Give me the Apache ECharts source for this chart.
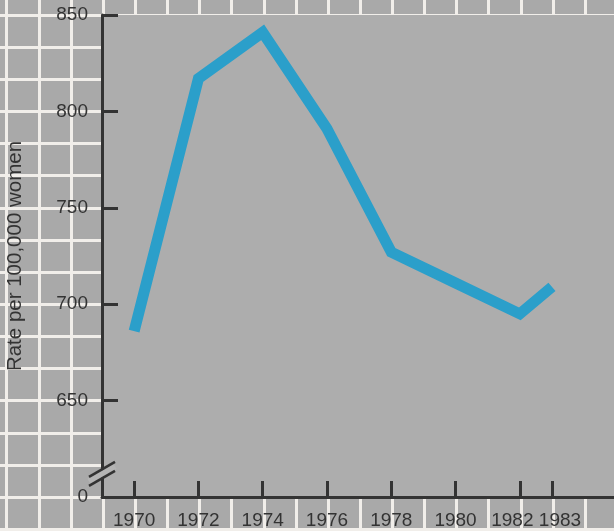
<!DOCTYPE html>
<html>
<head>
<meta charset="utf-8">
<script src="https://cdn.jsdelivr.net/npm/echarts@6/dist/echarts.min.js"></script>
<style>
html,body{margin:0;padding:0;background:#a9a9a9;}
#c{width:614px;height:531px;}
</style>
</head>
<body>
<div id="c"></div>
<script>
const years = [1970, 1972, 1974, 1976, 1978, 1980, 1982, 1983];
const rates = [686, 817, 841, 791, 727, 711, 695, 709];
const xTickYears = [1970, 1972, 1974, 1976, 1978, 1980, 1982, 1983];
const yTickValues = [650, 700, 750, 800, 850];
const yLabelValues = [600, 650, 700, 750, 800, 850];
const axisTitle = 'Rate per 100,000 women';

const FONT = 'Liberation Sans, Arial, sans-serif';
const INK = '#333333';
const BG = '#a9a9a9';
const XSIZE = 19;

const chart = echarts.init(document.getElementById('c'), null, {renderer: 'canvas'});

const labelStyle = {color: INK, fontSize: XSIZE, fontFamily: FONT};
const option = {
  backgroundColor: BG,
  animation: false,
  grid: [
    {left: 102, right: 0, top: 15, bottom: 34, show: true, backgroundColor: '#adadad', borderWidth: 0, z: 1, containLabel: false, outerBoundsMode: 'none'},
    {left: -25.5, right: -3.3, top: -17.13, bottom: -30.3, show: false, z: 0, containLabel: false, outerBoundsMode: 'none'}
  ],
  xAxis: [
    {
      type: 'value', gridIndex: 0, min: 1969, max: 1984.93, z: 3,
      axisLine: {show: true, lineStyle: {color: INK, width: 3}},
      axisTick: {show: true, inside: true, length: 16, customValues: xTickYears, lineStyle: {color: INK, width: 3}},
      axisLabel: {
        show: true, customValues: xTickYears, margin: 14, hideOverlap: false,
        color: INK, fontSize: XSIZE, fontFamily: FONT,
        formatter: v => (v === 1982 ? '{l|' + v + '}' : v === 1983 ? '{r|' + v + '}' : String(v)),
        rich: {
          l: Object.assign({padding: [0, 15, 0, 0]}, labelStyle),
          r: Object.assign({padding: [0, 0, 0, 16]}, labelStyle)
        }
      },
      splitLine: {show: false}
    },
    {
      type: 'value', gridIndex: 1, min: 1965, max: 1985, interval: 1, z: 0,
      axisLine: {show: false}, axisTick: {show: false}, axisLabel: {show: false},
      splitLine: {show: true, lineStyle: {color: '#f1eeea', width: 3}}
    }
  ],
  yAxis: [
    {
      type: 'value', gridIndex: 0, min: 600, max: 850, z: 3,
      name: axisTitle, nameLocation: 'middle', nameRotate: 90, nameGap: 76,
      nameTextStyle: {fontSize: 20.5, color: INK, fontFamily: FONT},
      axisLine: {show: true, lineStyle: {color: INK, width: 3}},
      axisTick: {show: true, inside: true, length: 16, customValues: yTickValues, lineStyle: {color: INK, width: 3}},
      axisLabel: {show: true, customValues: yLabelValues, margin: 14, hideOverlap: false, color: INK, fontSize: 19, fontFamily: FONT,
        formatter: v => (v === 600 ? '0' : String(v))},
      splitLine: {show: false}
    },
    {
      type: 'value', gridIndex: 1, min: 0, max: 18, interval: 1, z: 0,
      axisLine: {show: false}, axisTick: {show: false}, axisLabel: {show: false},
      splitLine: {show: true, lineStyle: {color: '#f1eeea', width: 3}}
    }
  ],
  series: [
    {
      type: 'line', xAxisIndex: 0, yAxisIndex: 0, z: 4,
      data: years.map((y, i) => [y, rates[i]]),
      symbol: 'none',
      lineStyle: {color: '#2b9fca', width: 11, cap: 'butt', join: 'miter'}
    }
  ]
};
chart.setOption(option);

// axis break marks on the y axis, positioned through the axis scale
const bp = chart.convertToPixel({xAxisIndex: 0, yAxisIndex: 0}, [1969, 612]);
const dx = 13, dy = -7.5, off = 4.4;
chart.setOption({
  graphic: [
    {type: 'line', z: 10, shape: {x1: bp[0] - dx, y1: bp[1] - dy, x2: bp[0] + dx, y2: bp[1] + dy},
      style: {stroke: '#b4b4b4', lineWidth: 6}},
    {type: 'line', z: 11, shape: {x1: bp[0] - dx, y1: bp[1] - dy - off, x2: bp[0] + dx, y2: bp[1] + dy - off},
      style: {stroke: INK, lineWidth: 2.6}},
    {type: 'line', z: 11, shape: {x1: bp[0] - dx, y1: bp[1] - dy + off, x2: bp[0] + dx, y2: bp[1] + dy + off},
      style: {stroke: INK, lineWidth: 2.6}}
  ]
});
</script>
</body>
</html>
